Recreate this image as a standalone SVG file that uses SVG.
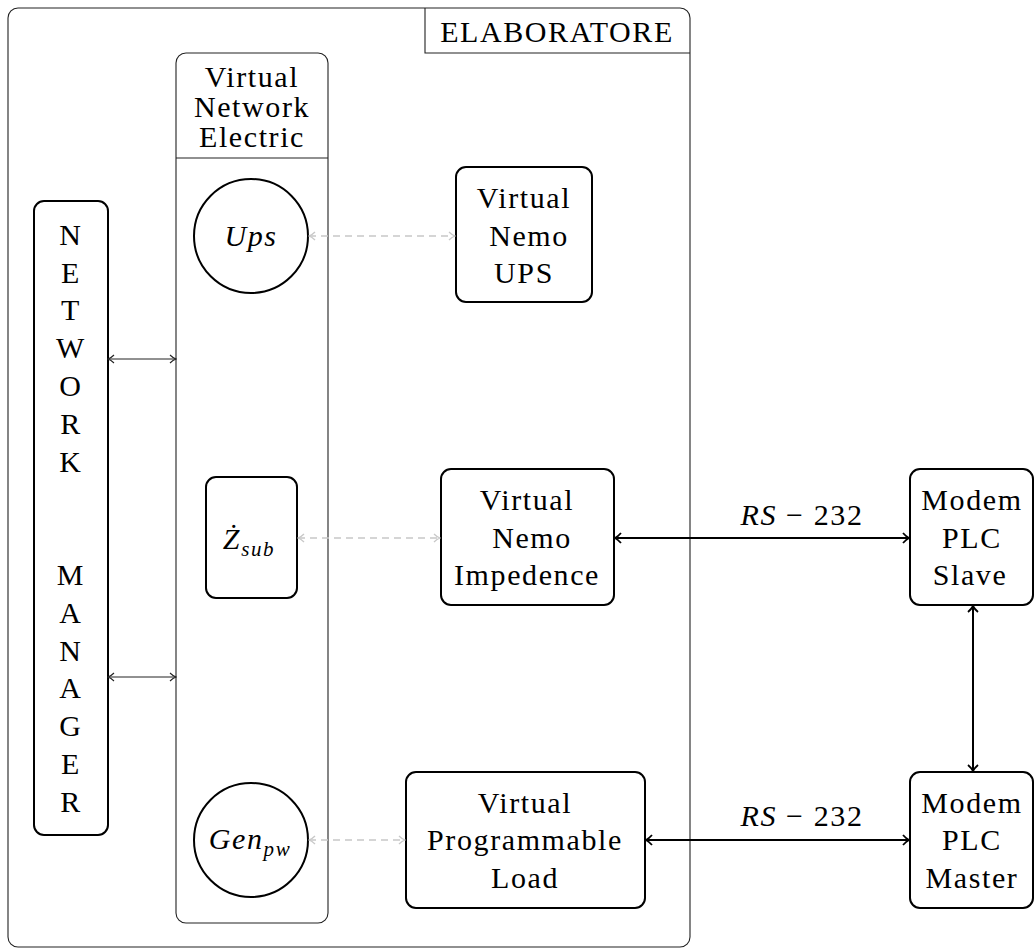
<svg xmlns="http://www.w3.org/2000/svg" width="1034" height="950" viewBox="0 0 1034 950">
<style>
text{font-family:'Liberation Serif','DejaVu Serif','Noto Serif',serif}
.t{font-size:30px;letter-spacing:1.6px;text-anchor:middle;fill:#000}
.m{font-style:italic}
.sub{font-size:21px;font-style:italic}
.frame{fill:none;stroke:#222;stroke-width:1.1}
.box{fill:#fff;stroke:#000;stroke-width:2}
.thick{stroke:#000;stroke-width:2;fill:none}
.thin{stroke:#222;stroke-width:1;fill:none}
.dash{stroke:#c8c8c8;stroke-width:1.3;stroke-dasharray:7,5;fill:none}
</style>
<defs>
<marker id="ahk" viewBox="0 0 12 12" markerWidth="12" markerHeight="12" refX="11" refY="6" orient="auto-start-reverse" markerUnits="userSpaceOnUse">
<path d="M5,1 Q8,4.5 11,6 Q8,7.5 5,11" fill="none" stroke="#000" stroke-width="1.8"/>
</marker>
<marker id="aht" viewBox="0 0 12 12" markerWidth="12" markerHeight="12" refX="11" refY="6" orient="auto-start-reverse" markerUnits="userSpaceOnUse">
<path d="M5,2 Q8,5 11,6 Q8,7 5,10" fill="none" stroke="#222" stroke-width="1.1"/>
</marker>
<marker id="ahg" viewBox="0 0 12 12" markerWidth="12" markerHeight="12" refX="11" refY="6" orient="auto-start-reverse" markerUnits="userSpaceOnUse">
<path d="M5,2 Q8,5 11,6 Q8,7 5,10" fill="none" stroke="#c8c8c8" stroke-width="1.3"/>
</marker>
</defs>
<rect width="1034" height="950" fill="#fff"/>

<g id="elaboratore" font-family="Liberation Serif, serif">
<rect class="frame" x="8" y="8" width="682" height="939" rx="10"/>
<path class="frame" d="M425,8 V53 H690"/>
<text class="t" x="557" y="42" font-family="Liberation Serif, serif">ELABORATORE</text>
</g>

<g id="vne">
<rect class="frame" x="176" y="53" width="152" height="870" rx="10"/>
<line class="frame" x1="176" y1="158" x2="328" y2="158"/>
<text class="t" x="252" y="87">Virtual</text>
<text class="t" x="252" y="117">Network</text>
<text class="t" x="252" y="147">Electric</text>
</g>

<g id="ups">
<circle class="box" cx="251" cy="236" r="57"/>
<text class="t m" x="251" y="246">Ups</text>
</g>

<g id="zsub">
<rect class="box" x="206" y="477" width="91" height="121" rx="10"/>
<text class="t" x="249" y="549"><tspan class="m">Ż</tspan><tspan class="sub" dy="7">sub</tspan></text>
</g>

<g id="genpw">
<circle class="box" cx="251" cy="840" r="57"/>
<text class="t" x="250" y="849"><tspan class="m">Gen</tspan><tspan class="sub" dy="7">pw</tspan></text>
</g>

<g id="network-manager">
<rect class="box" x="34" y="201" width="74" height="634" rx="10"/>
<text class="t" x="71" y="245">N</text>
<text class="t" x="71" y="283">E</text>
<text class="t" x="71" y="320">T</text>
<text class="t" x="71" y="358">W</text>
<text class="t" x="71" y="396">O</text>
<text class="t" x="71" y="434">R</text>
<text class="t" x="71" y="472">K</text>
<text class="t" x="71" y="585">M</text>
<text class="t" x="71" y="623">A</text>
<text class="t" x="71" y="661">N</text>
<text class="t" x="71" y="698">A</text>
<text class="t" x="71" y="736">G</text>
<text class="t" x="71" y="774">E</text>
<text class="t" x="71" y="812">R</text>
</g>

<g id="nemo-ups">
<rect class="box" x="456" y="167" width="136" height="135" rx="10"/>
<text class="t" x="524" y="208">Virtual</text>
<text class="t" x="529" y="246">Nemo</text>
<text class="t" x="524" y="283">UPS</text>
</g>

<g id="nemo-impedence">
<rect class="box" x="441" y="469" width="173" height="136" rx="10"/>
<text class="t" x="527" y="510">Virtual</text>
<text class="t" x="532" y="548">Nemo</text>
<text class="t" x="527" y="585">Impedence</text>
</g>

<g id="programmable-load">
<rect class="box" x="406" y="772" width="239" height="136" rx="10"/>
<text class="t" x="525" y="813">Virtual</text>
<text class="t" x="525" y="850">Programmable</text>
<text class="t" x="525" y="888">Load</text>
</g>

<g id="modem-slave">
<rect class="box" x="910" y="469" width="123" height="136" rx="10"/>
<text class="t" x="972" y="510">Modem</text>
<text class="t" x="972" y="548">PLC</text>
<text class="t" x="970" y="585">Slave</text>
</g>

<g id="modem-master">
<rect class="box" x="910" y="772" width="123" height="136" rx="10"/>
<text class="t" x="972" y="813">Modem</text>
<text class="t" x="972" y="850">PLC</text>
<text class="t" x="972" y="888">Master</text>
</g>

<g id="connectors">
<line class="thin" x1="108" y1="359" x2="176" y2="359" marker-start="url(#aht)" marker-end="url(#aht)"/>
<line class="thin" x1="108" y1="677" x2="176" y2="677" marker-start="url(#aht)" marker-end="url(#aht)"/>
<line class="dash" x1="309" y1="236" x2="455" y2="236" marker-start="url(#ahg)" marker-end="url(#ahg)"/>
<line class="dash" x1="298" y1="538" x2="440" y2="538" marker-start="url(#ahg)" marker-end="url(#ahg)"/>
<line class="dash" x1="309" y1="840" x2="405" y2="840" marker-start="url(#ahg)" marker-end="url(#ahg)"/>
<line class="thick" x1="615" y1="538" x2="909" y2="538" marker-start="url(#ahk)" marker-end="url(#ahk)"/>
<line class="thick" x1="646" y1="840" x2="909" y2="840" marker-start="url(#ahk)" marker-end="url(#ahk)"/>
<line class="thick" x1="973" y1="606" x2="973" y2="771" marker-start="url(#ahk)" marker-end="url(#ahk)"/>
<text class="t" x="802" y="525"><tspan class="m">RS</tspan> − 232</text>
<text class="t" x="802" y="826"><tspan class="m">RS</tspan> − 232</text>
</g>
</svg>
